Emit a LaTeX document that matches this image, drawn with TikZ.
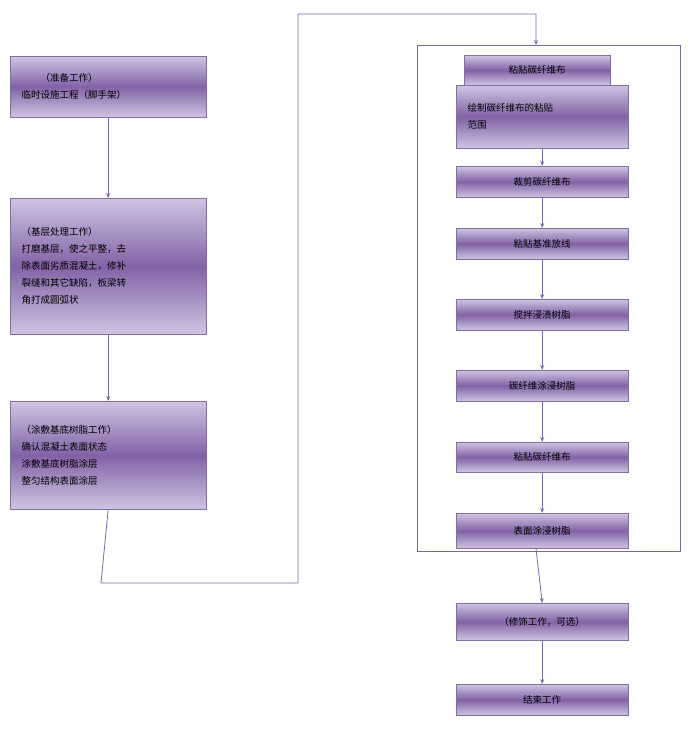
\documentclass[tikz,border=0pt]{standalone}
\usepackage{fontspec}
\setmainfont{Noto Sans CJK SC}
\usetikzlibrary{arrows.meta}
\definecolor{lnc}{HTML}{7B68A8}
\definecolor{bd}{HTML}{8070A0}
\definecolor{lt}{HTML}{D0C4E2}
\definecolor{dk}{HTML}{8262A6}
\tikzset{
 pbox/.style={draw=bd, top color=lt, bottom color=lt, middle color=dk, inner sep=0pt, font=\fontsize{9.5}{15}\selectfont},
 conn/.style={draw=lnc, line width=0.8pt},
 arr/.style={conn, -{Stealth[length=5pt,width=4pt]}},
}
\newcommand{\bx}[6]{\node[pbox, minimum width=#3-#1, minimum height=#4-#2, anchor=north west] (#5) at (#1,-#2) {};
\node[anchor=center, font=\fontsize{9.5}{15}\selectfont] at (#5.center) {#6};}
\newcommand{\lbx}[6]{\node[pbox, minimum width=#3-#1, minimum height=#4-#2, anchor=north west] (#5) at (#1,-#2) {};
\node[anchor=west, align=left, font=\fontsize{9.5}{17}\selectfont] at (#1+8,-#2/2-#4/2) {#6};}
\begin{document}
\begin{tikzpicture}[x=1pt,y=1pt]
\useasboundingbox (0,0) rectangle (690,-730);
\lbx{10}{56}{206}{117}{b1}{\hspace{2em}（准备工作）\\临时设施工程（脚手架）}
\lbx{10}{198}{206}{334}{b2}{（基层处理工作）\\打磨基层，使之平整，去\\除表面劣质混凝土，修补\\裂缝和其它缺陷，板梁转\\角打成圆弧状}
\lbx{10}{401}{206}{509}{b3}{（涂敷基底树脂工作）\\确认混凝土表面状态\\涂敷基底树脂涂层\\整匀结构表面涂层}
\draw[arr] (b1.south) -- (b2.north);
\draw[arr] (b2.south) -- (b3.north);
\node[draw=lnc, line width=0.6pt, minimum width=263, minimum height=506, anchor=north west, inner sep=0pt] (fr) at (417,-45) {};
\draw[arr] (b3.south) -- (101,-583) -- (298,-583) -- (298,-14) -- (536,-14) -- (fr.north -| 536,0);
\bx{464}{55}{610}{85}{t0}{粘贴碳纤维布}
\lbx{456}{85}{628}{148}{r1}{绘制碳纤维布的粘贴\\范围}
\bx{456}{166}{628}{197}{r2}{裁剪碳纤维布}
\bx{456}{228}{628}{259}{r3}{粘贴基准放线}
\bx{456}{299}{628}{330}{r4}{搅拌浸渍树脂}
\bx{456}{370}{628}{401}{r5}{碳纤维涂浸树脂}
\bx{456}{442}{628}{472}{r6}{粘贴碳纤维布}
\bx{456}{513}{628}{548}{r7}{表面涂浸树脂}
\bx{456}{603}{628}{640}{r8}{（修饰工作，可选）}
\bx{456}{684}{628}{715}{r9}{结束工作}
\draw[arr] (r1.south) -- (r2.north);
\draw[arr] (r2.south) -- (r3.north);
\draw[arr] (r3.south) -- (r4.north);
\draw[arr] (r4.south) -- (r5.north);
\draw[arr] (r5.south) -- (r6.north);
\draw[arr] (r6.south) -- (r7.north);
\draw[arr] (r7.south -| 536,-551) -- (r8.north);
\draw[arr] (r8.south) -- (r9.north);
\end{tikzpicture}
\end{document}
